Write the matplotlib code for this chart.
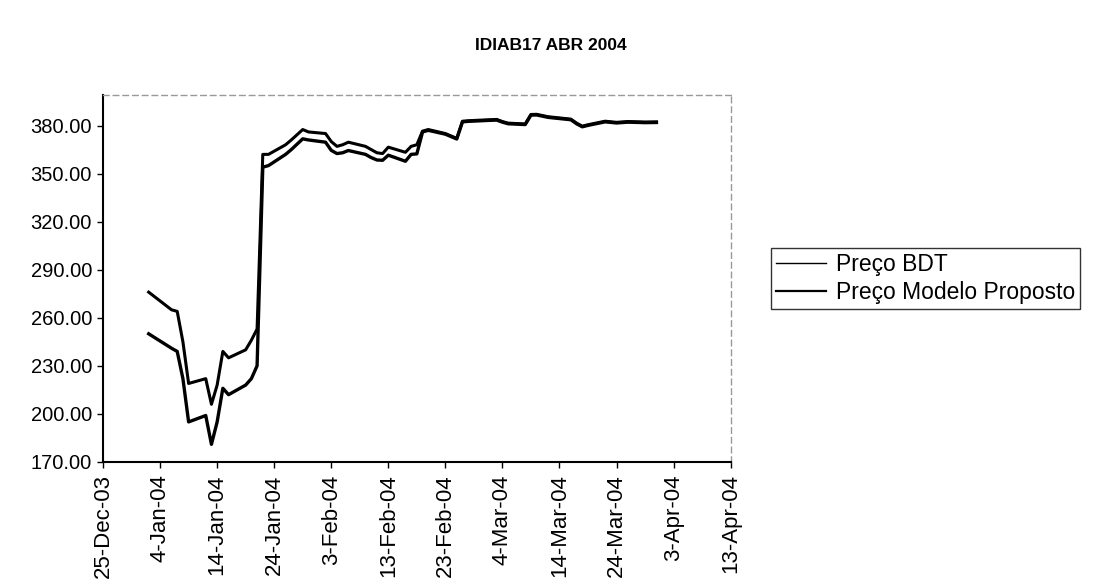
import matplotlib

matplotlib.use("Agg")
import matplotlib.pyplot as plt
import matplotlib.dates as mdates
import pandas as pd
from matplotlib.lines import Line2D

plt.rcParams["font.family"] = ["Liberation Sans", "DejaVu Sans"]

TITLE = "IDIAB17 ABR 2004"
SERIES_NAMES = ["Preço BDT", "Preço Modelo Proposto"]

DATES = [
    "2004-01-02", "2004-01-06", "2004-01-07", "2004-01-08", "2004-01-09",
    "2004-01-12", "2004-01-13", "2004-01-14", "2004-01-15", "2004-01-16",
    "2004-01-19", "2004-01-20", "2004-01-21", "2004-01-22", "2004-01-23",
    "2004-01-26", "2004-01-27", "2004-01-29", "2004-01-30", "2004-02-02",
    "2004-02-03", "2004-02-04", "2004-02-05", "2004-02-06", "2004-02-09",
    "2004-02-10", "2004-02-11", "2004-02-12", "2004-02-13", "2004-02-16",
    "2004-02-17", "2004-02-18", "2004-02-19", "2004-02-20", "2004-02-23",
    "2004-02-25", "2004-02-26", "2004-02-27", "2004-03-01", "2004-03-03",
    "2004-03-04", "2004-03-05", "2004-03-08", "2004-03-09", "2004-03-10",
    "2004-03-12", "2004-03-16", "2004-03-17", "2004-03-18", "2004-03-19",
    "2004-03-22", "2004-03-24", "2004-03-26", "2004-03-29", "2004-03-31",
]

PRECO_BDT = [
    276.0, 265.0, 264.0, 245.0, 219.0,
    222.0, 206.0, 218.0, 239.0, 235.0,
    240.0, 246.0, 253.0, 362.0, 362.0,
    368.0, 371.0, 377.5, 376.0, 375.0,
    370.0, 367.0, 368.0, 369.6, 367.0,
    365.0, 363.0, 362.5, 366.5, 363.3,
    367.0, 368.0, 376.5, 377.5, 375.0,
    372.0, 382.7, 383.0, 383.5, 383.8,
    382.5, 381.5, 381.0, 386.9, 387.0,
    385.5, 384.0, 381.5, 379.6, 380.5,
    382.7, 382.0, 382.5, 382.2, 382.3,
]

PRECO_MODELO = [
    250.0, 241.0, 239.0, 222.0, 195.0,
    199.0, 181.0, 195.0, 216.0, 212.0,
    218.0, 222.0, 230.0, 354.0, 355.0,
    362.0, 365.0, 371.7, 371.0, 369.6,
    364.5, 362.5, 363.0, 364.4, 362.0,
    360.0, 358.5, 358.3, 361.5, 357.7,
    362.0, 362.3, 376.0, 377.0, 374.6,
    371.6, 382.3, 382.6, 383.1, 383.4,
    382.1, 381.1, 380.6, 386.5, 386.6,
    385.1, 383.6, 381.1, 379.2, 380.1,
    382.3, 381.6, 382.1, 381.8, 381.9,
]

Y_TICKS = [170, 200, 230, 260, 290, 320, 350, 380]
X_START = "2003-12-25"
X_END = "2004-04-13"


def main() -> None:
    dates = pd.to_datetime(DATES)

    fig = plt.figure(figsize=(11.02, 5.87), dpi=100)
    ax = fig.add_axes([0.0935, 0.213, 0.5695, 0.625])

    ax.plot(dates, PRECO_BDT, color="black", lw=2.2)
    ax.plot(dates, PRECO_MODELO, color="black", lw=2.4)

    ax.set_xlim(pd.Timestamp(X_START), pd.Timestamp(X_END))
    ax.set_ylim(170, 399)
    ax.set_yticks(Y_TICKS)
    ax.yaxis.set_major_formatter(matplotlib.ticker.FormatStrFormatter("%.2f"))

    ticks = pd.date_range(X_START, X_END, freq="10D")
    ax.set_xticks(ticks)
    ax.xaxis.set_major_formatter(mdates.DateFormatter("%-d-%b-%y"))
    for label in ax.get_xticklabels():
        label.set_rotation(90)

    ax.tick_params(axis="both", direction="out", length=4, width=1,
                   color="black")
    ax.tick_params(axis="y", labelsize=14.5, pad=4)
    ax.tick_params(axis="x", labelsize=16, pad=5)

    for side in ("left", "bottom"):
        ax.spines[side].set_color("black")
        ax.spines[side].set_linewidth(1.5)
    for side in ("top", "right"):
        ax.spines[side].set_color("#999999")
        ax.spines[side].set_linewidth(1.0)
        ax.spines[side].set_linestyle((0, (4, 3)))

    fig.text(0.5, 0.923, TITLE, ha="center", va="center",
             fontsize=12.5, fontweight="bold")

    # legend keys are drawn thinner than the plotted series
    handles = [
        Line2D([], [], color="black", lw=1.0),
        Line2D([], [], color="black", lw=1.6),
    ]
    leg = fig.legend(
        handles, SERIES_NAMES,
        loc="upper left",
        bbox_to_anchor=(0.6996, 0.5775),
        borderaxespad=0.0,
        fontsize=16.5,
        frameon=True,
        fancybox=False,
        handlelength=2.2,
        handletextpad=0.45,
        borderpad=0.2,
        labelspacing=0.25,
    )
    leg.get_frame().set_edgecolor("black")
    leg.get_frame().set_linewidth(1.0)

    fig.savefig("out.png", dpi=100)
    plt.close(fig)


if __name__ == "__main__":
    main()
